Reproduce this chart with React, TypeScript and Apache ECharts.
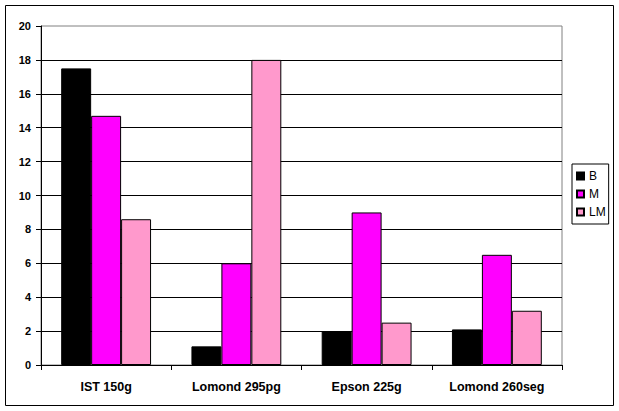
import React, { useEffect, useRef } from "react";
import * as echarts from "echarts";

const categories = ["IST 150g", "Lomond 295pg", "Epson 225g", "Lomond 260seg"];
const seriesB = [17.5, 1.1, 2.0, 2.1];
const seriesM = [14.7, 6.0, 9.0, 6.5];
const seriesLM = [8.6, 18.0, 2.5, 3.2];
const seriesNames = ["B", "M", "LM"];
const colors = ["#000000", "#FF00FF", "#FF99CC"];

export default function App() {
  const ref = useRef<HTMLDivElement>(null);
  useEffect(() => {
    if (!ref.current) return;
    const chart = echarts.init(ref.current, null, { renderer: "svg" });
    const data = [seriesB, seriesM, seriesLM];
    chart.setOption({
      animation: false,
      backgroundColor: "#ffffff",
      textStyle: { fontFamily: "Arial, 'Liberation Sans', sans-serif" },
      grid: {
        left: 41,
        top: 26,
        right: 57,
        bottom: 46,
        show: true,
        borderColor: "#808080",
        borderWidth: 1,
        containLabel: false,
      },
      legend: {
        orient: "vertical",
        left: 572,
        top: 164,
        itemWidth: 7,
        itemHeight: 7,
        itemGap: 6,
        padding: [6, 3, 6, 4],
        borderColor: "#000000",
        borderWidth: 1,
        icon: "rect",
        textStyle: { fontSize: 12, color: "#000", fontFamily: "Arial, 'Liberation Sans', sans-serif" },
        data: seriesNames,
      },
      xAxis: {
        type: "category",
        data: categories,
        axisLine: { lineStyle: { color: "#000", width: 1 } },
        axisTick: { show: true, length: 5, lineStyle: { color: "#000" } },
        axisLabel: {
          color: "#000",
          fontWeight: "bold",
          fontSize: 12.5,
          margin: 15,
          fontFamily: "Arial, 'Liberation Sans', sans-serif",
        },
      },
      yAxis: {
        type: "value",
        min: 0,
        max: 20,
        interval: 2,
        axisLine: { show: true, lineStyle: { color: "#000", width: 1 } },
        axisTick: { show: true, length: 5, lineStyle: { color: "#000" } },
        axisLabel: {
          color: "#000",
          fontWeight: "bold",
          fontSize: 11,
          margin: 10,
          fontFamily: "Arial, 'Liberation Sans', sans-serif",
        },
        splitLine: { show: true, showMaxLine: false, lineStyle: { color: "#000", width: 1 } },
      },
      graphic: [
        {
          type: "rect",
          shape: { x: 5.5, y: 5.5, width: 608, height: 400 },
          style: { fill: "none", stroke: "#000", lineWidth: 1 },
          silent: true,
          z: 100,
        },
      ],
      series: seriesNames.map((name, i) => ({
        name,
        type: "bar",
        data: data[i],
        barGap: "0%",
        barCategoryGap: "31%",
        itemStyle: { color: colors[i], borderColor: "#000", borderWidth: 1 },
      })),
    });
    return () => chart.dispose();
  }, []);
  return (
    <div
      ref={ref}
      style={{ position: "fixed", left: 0, top: 0, width: 619, height: 411, background: "#fff" }}
    />
  );
}
